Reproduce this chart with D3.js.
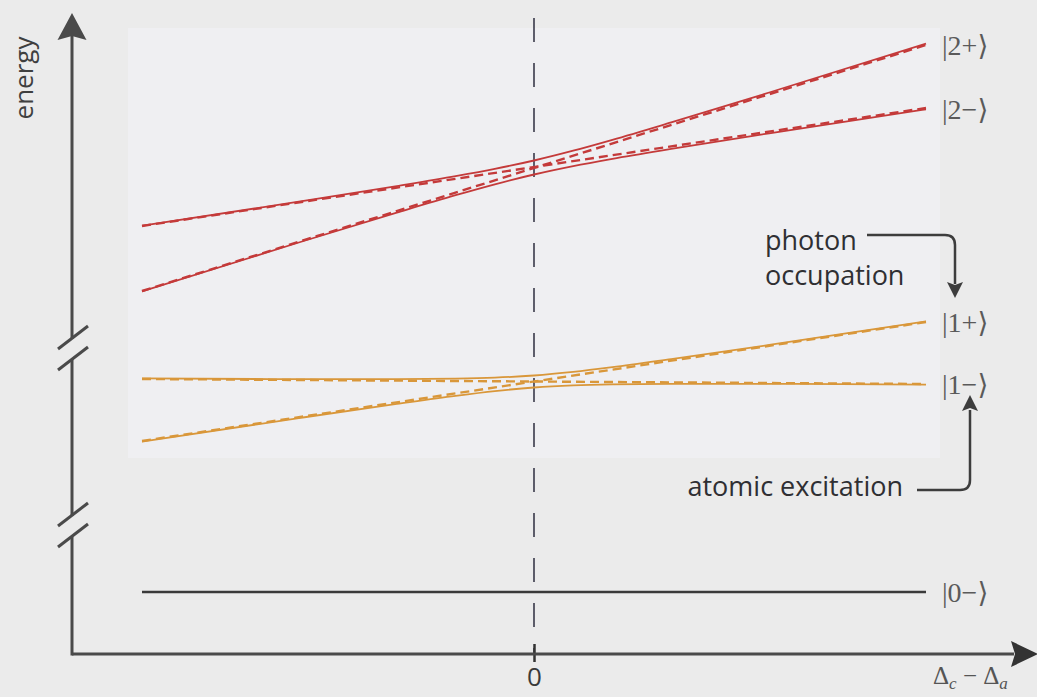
<!DOCTYPE html>
<html>
<head>
<meta charset="utf-8">
<script src="https://cdn.jsdelivr.net/npm/d3@7"></script>
<style>
  body { margin: 0; background: #ececec; }
  svg { display: block; }
</style>
</head>
<body>
<script>
//detuning samples (units of the sweep, 0 = resonance)
var detuning = [-1, -0.6, -0.35, -0.2, -0.1, 0, 0.1, 0.2, 0.35, 0.6, 1];
var ends = [-1, 1];

//dressed states (arbitrary energy units)
var red2Plus  = [42.93, 45.33, 46.89, 47.88, 48.61, 49.45, 50.43, 51.52, 53.26, 56.25, 61.13];
var red2Minus = [36.37, 41.25, 44.24, 45.98, 47.07, 48.05, 48.89, 49.62, 50.61, 52.17, 54.57];
var orange1Plus  = [27.66, 27.59, 27.59, 27.64, 27.74, 27.95, 28.31, 28.78, 29.59, 31.01, 33.36];
var orange1Minus = [21.34, 23.69, 25.11, 25.92, 26.39, 26.75, 26.96, 27.06, 27.11, 27.11, 27.04];

//bare (uncoupled) states, end points only
var red2Atom   = [42.9, 54.7];
var red2Photon = [36.4, 61.0];
var orange1Atom   = [27.6, 27.1];
var orange1Photon = [21.4, 33.3];
var ground = [6.3, 6.3];

//ket labels and their energies at the right end
var ketNames  = ["2+", "2\u2212", "1+", "1\u2212", "0\u2212"];
var ketLevels = [61.0, 54.6, 33.3, 27.1, 6.3];

var w = 1037, h = 697;
var red = "#c43a3a", orange = "#d9973a", axisCol = "#4a4a4a";

var svg = d3.select("body").append("svg")
    .attr("width", w)
    .attr("height", h);

//scanned-paper background
svg.append("rect").attr("width", w).attr("height", h).attr("fill", "#ebebeb");
svg.append("rect")
    .attr("x", 128).attr("y", 28)
    .attr("width", 812).attr("height", 430)
    .attr("fill", "#efeff2");

var x = d3.scaleLinear().domain([-1, 1]).range([142, 926]);
var y = d3.scaleLinear().domain([0, 64.1]).range([655, 14]);

var axisX = 72, axisY = 654;

//zero detuning dashed line
svg.append("line")
    .attr("x1", x(0)).attr("x2", x(0))
    .attr("y1", 18).attr("y2", axisY)
    .attr("stroke", "#3a3a4a")
    .attr("stroke-width", 1.6)
    .attr("stroke-dasharray", "24,21");

//x axis tick + label
var xAxis = d3.axisBottom(x).tickValues([0]).tickSize(8).tickFormat(d3.format("d"));
var gx = svg.append("g")
    .attr("transform", "translate(0," + axisY + ")")
    .call(xAxis);
gx.select(".domain").remove();
gx.selectAll(".tick line")
    .attr("y1", -10).attr("y2", 8)
    .attr("stroke", "#333").attr("stroke-width", 2.5);
gx.selectAll(".tick text")
    .attr("y", 14)
    .attr("dy", "0.71em")
    .attr("fill", "#3a3a3a")
    .style("font-family", "'Open Sans', sans-serif")
    .style("font-size", "26px");

//axes lines
svg.append("line")
    .attr("x1", axisX).attr("x2", 1014)
    .attr("y1", axisY).attr("y2", axisY)
    .attr("stroke", axisCol).attr("stroke-width", 3);
svg.append("path")
    .attr("d", "M1038," + axisY + " L1011," + (axisY - 13) + " L1015," + axisY + " L1011," + (axisY + 13) + "Z")
    .attr("fill", "#333");

//y axis in pieces, with breaks
var yPieces = [[axisY + 1.5, 537], [516, 359], [339, 36]];
yPieces.forEach(function(p){
    svg.append("line")
        .attr("x1", axisX).attr("x2", axisX)
        .attr("y1", p[0]).attr("y2", p[1])
        .attr("stroke", axisCol).attr("stroke-width", 3);
});
[349, 370, 526, 547].forEach(function(c){
    svg.append("line")
        .attr("x1", 58).attr("x2", 88)
        .attr("y1", c).attr("y2", c - 23)
        .attr("stroke", axisCol).attr("stroke-width", 3);
});
svg.append("path")
    .attr("d", "M" + axisX + ",13 L" + (axisX + 14.5) + ",40 L" + axisX + ",36 L" + (axisX - 14.5) + ",40Z")
    .attr("fill", "#4a4a4a");

//energy label
svg.append("text")
    .attr("transform", "translate(33,78) rotate(-90)")
    .attr("text-anchor", "middle")
    .attr("fill", "#3f3f3f")
    .style("font-family", "'Open Sans', sans-serif")
    .style("font-size", "26px")
    .text("energy");

//line generators
var curve = d3.line()
    .x(function(d){ return x(d[0]); })
    .y(function(d){ return y(d[1]); })
    .curve(d3.curveMonotoneX);

function drawSolid(vals, col){
    svg.append("path")
        .datum(d3.zip(detuning, vals))
        .attr("d", curve)
        .attr("fill", "none")
        .attr("stroke", col)
        .attr("stroke-width", 1.8);
}
function drawBare(vals, col, dashed){
    svg.append("path")
        .datum(d3.zip(ends, vals))
        .attr("d", curve)
        .attr("fill", "none")
        .attr("stroke", col)
        .attr("stroke-width", 2.4)
        .attr("stroke-dasharray", dashed ? "9,5" : null);
}

drawSolid(red2Plus, red);
drawSolid(red2Minus, red);
drawBare(red2Atom, red, true);
drawBare(red2Photon, red, true);

drawSolid(orange1Plus, orange);
drawSolid(orange1Minus, orange);
drawBare(orange1Atom, orange, true);
drawBare(orange1Photon, orange, true);

drawBare(ground, "#3a3a3a", false);

//ket labels
svg.selectAll(".ket")
    .data(d3.zip(ketNames, ketLevels))
    .enter()
    .append("text")
    .attr("class", "ket")
    .attr("x", x(1) + 16)
    .attr("y", function(d){ return y(d[1]); })
    .attr("dy", "0.35em")
    .attr("fill", "#5a5a5a")
    .style("font-family", "'Liberation Serif', 'DejaVu Serif', serif")
    .style("font-size", "28px")
    .text(function(d){ return "|" + d[0] + "\u27E9"; });

//annotations
var annot = svg.append("g")
    .style("font-family", "'Open Sans', sans-serif")
    .style("font-size", "27px")
    .attr("fill", "#2f2f33");
annot.append("text").attr("x", 765).attr("y", 250).text("photon");
annot.append("text").attr("x", 765).attr("y", 285).text("occupation");
annot.append("text").attr("x", 903).attr("y", 496).attr("text-anchor", "end").text("atomic excitation");

//annotation arrows
svg.append("path")
    .attr("d", "M867,235 H945 Q955,235 955,245 V284")
    .attr("fill", "none").attr("stroke", "#3d3d3d").attr("stroke-width", 2.5);
svg.append("path")
    .attr("d", "M955,298 L947,282 L955,285 L963,282Z")
    .attr("fill", "#3d3d3d");
svg.append("path")
    .attr("d", "M917,490 H960 Q970,490 970,480 V410")
    .attr("fill", "none").attr("stroke", "#3d3d3d").attr("stroke-width", 2.5);
svg.append("path")
    .attr("d", "M970,395 L962,411 L970,408 L978,411Z")
    .attr("fill", "#3d3d3d");

//x axis title
var xt = svg.append("text")
    .attr("x", 933).attr("y", 684)
    .attr("fill", "#555")
    .style("font-family", "'Liberation Serif', 'DejaVu Serif', serif")
    .style("font-size", "25px");
xt.append("tspan").text("\u0394");
xt.append("tspan").attr("dy", 5).style("font-size", "17px").style("font-style", "italic").text("c");
xt.append("tspan").attr("dy", -5).text(" \u2212 \u0394");
xt.append("tspan").attr("dy", 5).style("font-size", "17px").style("font-style", "italic").text("a");
</script>
</body>
</html>
